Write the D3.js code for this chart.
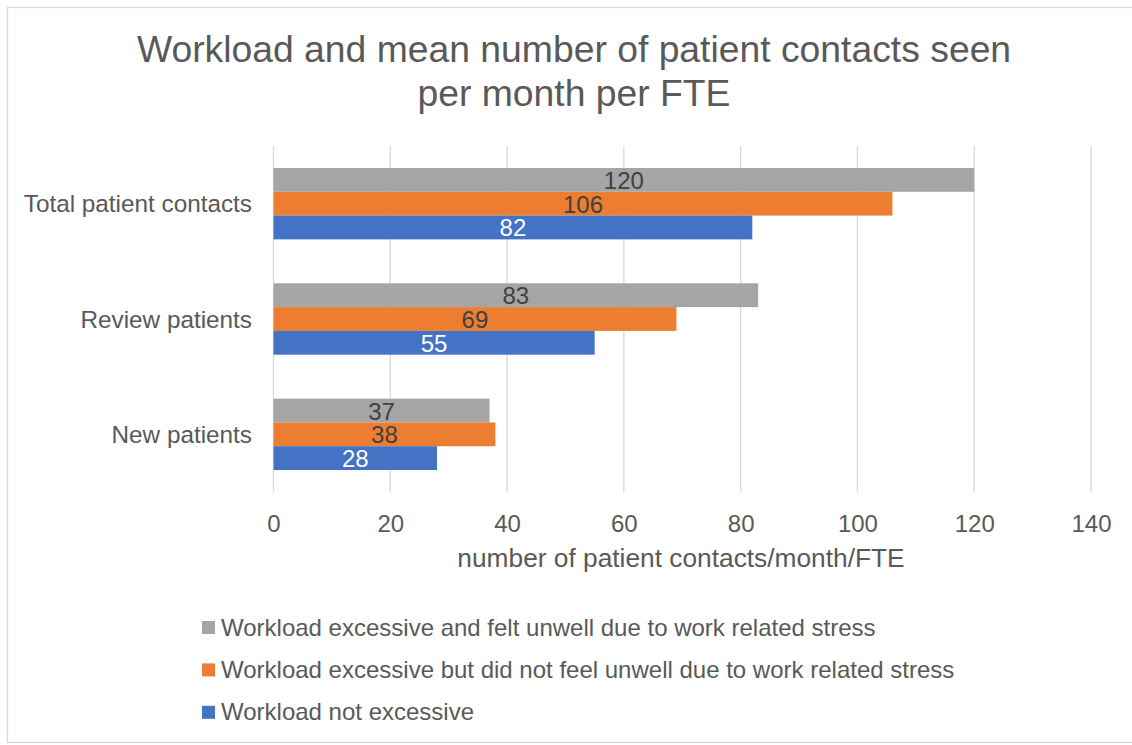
<!DOCTYPE html>
<html>
<head>
<meta charset="utf-8">
<script src="https://cdn.jsdelivr.net/npm/d3@7"></script>
<style>
  html, body { margin: 0; padding: 0; background: #ffffff; }
  svg { display: block; font-family: "Liberation Sans", Arial, sans-serif; }
</style>
</head>
<body>
<svg id="chart" width="1132" height="745"></svg>
<script>
// Categories, listed top to bottom
const categories = ["Total patient contacts", "Review patients", "New patients"];

// Series, listed in drawing order within each group (top to bottom)
const seriesNames = [
  "Workload excessive and felt unwell due to work related stress",
  "Workload excessive but did not feel unwell due to work related stress",
  "Workload not excessive"
];
const seriesColors = ["#A5A5A5", "#ED7D31", "#4472C4"];
const labelColors = ["#404040", "#404040", "#ffffff"];

// Mean contacts per month per FTE, one array per series (order follows categories)
const unwellValues = [120, 83, 37];
const notUnwellValues = [106, 69, 38];
const notExcessiveValues = [82, 55, 28];
const seriesValues = [unwellValues, notUnwellValues, notExcessiveValues];

const xTicks = [0, 20, 40, 60, 80, 100, 120, 140];
const titleLines = ["Workload and mean number of patient contacts seen", "per month per FTE"];
const xAxisTitle = "number of patient contacts/month/FTE";

const svg = d3.select("#chart");
const textColor = "#595959";
const gridColor = "#D9D9D9";

// Chart frame
svg.append("rect")
  .attr("x", 7.5).attr("y", 7.5)
  .attr("width", 1140).attr("height", 735)
  .attr("fill", "#ffffff")
  .attr("stroke", gridColor)
  .attr("stroke-width", 1.3);

// Title
const title = svg.append("text")
  .attr("text-anchor", "middle")
  .attr("fill", textColor)
  .attr("font-size", 37.3);
titleLines.forEach((line, i) => {
  title.append("tspan").attr("x", 574).attr("y", 62 + i * 43.5).text(line);
});

// Plot area
const plot = { left: 273.5, right: 1091, top: 146, bottom: 492 };

const x = d3.scaleLinear().domain([0, 140]).range([plot.left, plot.right]);
const y = d3.scaleBand().domain(categories)
  .range([plot.top, plot.bottom])
  .paddingInner(0.381).paddingOuter(0.1905);
const ySeries = d3.scaleBand().domain(d3.range(seriesNames.length))
  .range([0, y.bandwidth()]);

// Vertical gridlines
svg.append("g")
  .selectAll("line")
  .data(xTicks)
  .join("line")
  .attr("x1", d => x(d)).attr("x2", d => x(d))
  .attr("y1", plot.top).attr("y2", plot.bottom)
  .attr("stroke", gridColor)
  .attr("stroke-width", 1.3);

// X axis tick labels
const xAxis = d3.axisBottom(x).tickValues(xTicks).tickSize(0).tickPadding(0);
const xAxisG = svg.append("g")
  .attr("transform", `translate(0,${plot.bottom})`)
  .call(xAxis);
xAxisG.select(".domain").remove();
xAxisG.selectAll("text")
  .attr("fill", textColor)
  .attr("font-size", 24)
  .attr("font-family", "Liberation Sans, Arial, sans-serif")
  .attr("dy", null)
  .attr("y", 40);

// Y axis category labels
const yAxis = d3.axisLeft(y).tickSize(0).tickPadding(0);
const yAxisG = svg.append("g")
  .attr("transform", `translate(252,0)`)
  .call(yAxis);
yAxisG.select(".domain").remove();
yAxisG.selectAll("text")
  .attr("fill", textColor)
  .attr("font-size", 24.3)
  .attr("font-family", "Liberation Sans, Arial, sans-serif")
  .attr("dy", null)
  .attr("dominant-baseline", "central");

// Bars and value labels
const rows = [];
seriesValues.forEach((vals, s) => {
  vals.forEach((v, c) => rows.push({ s, cat: categories[c], v }));
});

const bars = svg.append("g");
bars.selectAll("rect")
  .data(rows)
  .join("rect")
  .attr("x", x(0))
  .attr("y", d => y(d.cat) + ySeries(d.s))
  .attr("width", d => x(d.v) - x(0))
  .attr("height", ySeries.bandwidth())
  .attr("fill", d => seriesColors[d.s]);

bars.selectAll("text")
  .data(rows)
  .join("text")
  .attr("x", d => x(d.v / 2))
  .attr("y", d => y(d.cat) + ySeries(d.s) + ySeries.bandwidth() / 2 + 9)
  .attr("text-anchor", "middle")
  .attr("font-size", 24)
  .attr("fill", d => labelColors[d.s])
  .text(d => d.v);

// X axis title
svg.append("text")
  .attr("x", 681)
  .attr("y", 567)
  .attr("text-anchor", "middle")
  .attr("font-size", 26.3)
  .attr("fill", textColor)
  .text(xAxisTitle);

// Legend
const legend = svg.append("g")
  .selectAll("g")
  .data(seriesNames)
  .join("g")
  .attr("transform", (d, i) => `translate(202,${621 + i * 42.4})`);
legend.append("rect")
  .attr("width", 13).attr("height", 13)
  .attr("fill", (d, i) => seriesColors[i]);
legend.append("text")
  .attr("x", 19)
  .attr("y", 14.5)
  .attr("font-size", 24)
  .attr("fill", textColor)
  .text(d => d);
</script>
</body>
</html>
